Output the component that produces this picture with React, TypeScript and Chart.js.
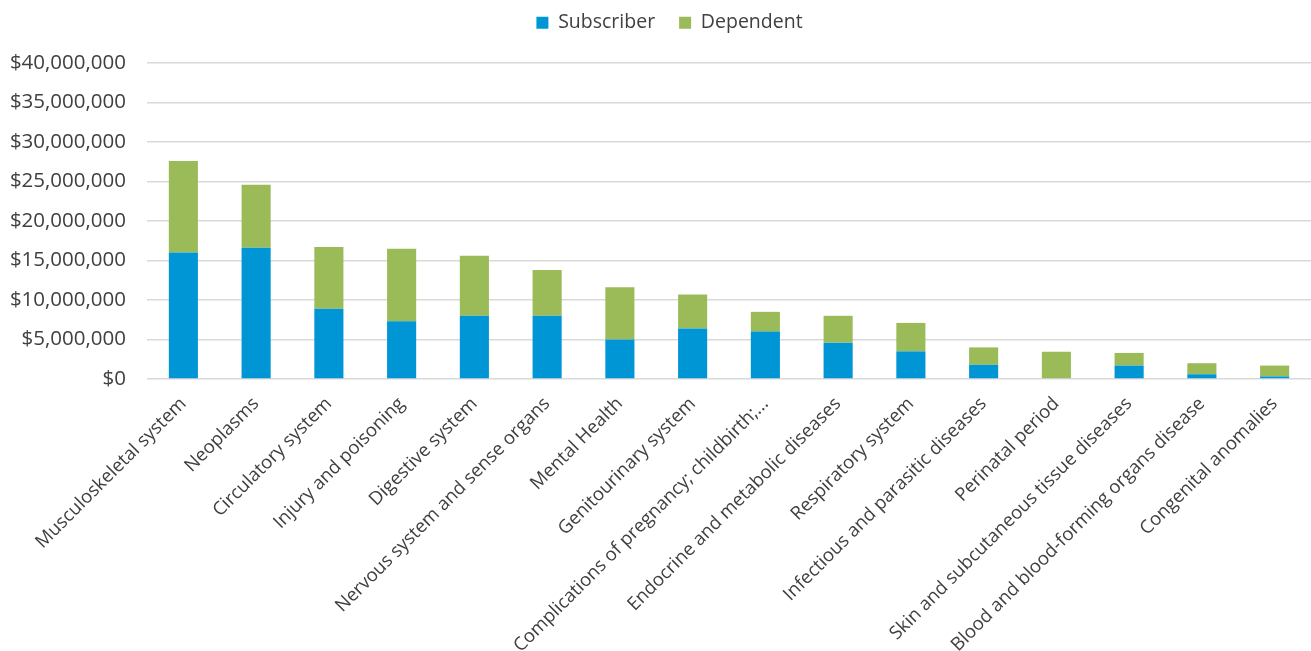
import React, { useEffect, useRef } from "react";
import { Chart, registerables } from "chart.js";

Chart.register(...registerables);

const categories = [
  "Musculoskeletal system",
  "Neoplasms",
  "Circulatory system",
  "Injury and poisoning",
  "Digestive system",
  "Nervous system and sense organs",
  "Mental Health",
  "Genitourinary system",
  "Complications of pregnancy; childbirth;...",
  "Endocrine and metabolic diseases",
  "Respiratory system",
  "Infectious and parasitic diseases",
  "Perinatal period",
  "Skin and subcutaneous tissue diseases",
  "Blood and blood-forming organs disease",
  "Congenital anomalies",
];

const subscriber = [
  16000000, 16600000, 8900000, 7300000, 8000000, 8000000, 5000000, 6400000,
  6000000, 4600000, 3500000, 1800000, 0, 1700000, 600000, 330000,
];

const dependent = [
  11600000, 8000000, 7800000, 9200000, 7600000, 5800000, 6600000, 4300000,
  2500000, 3400000, 3600000, 2200000, 3450000, 1600000, 1400000, 1370000,
];

const yTicks = [0, 5000000, 10000000, 15000000, 20000000, 25000000, 30000000, 35000000, 40000000];

const FONT = "'Open Sans', sans-serif";
const TEXT = "#404040";

export default function App() {
  const ref = useRef<HTMLCanvasElement | null>(null);
  useEffect(() => {
    if (!ref.current) return;
    const legendFix = {
      id: "legendFix",
      beforeInit(chart: any) {
        const lg = chart.legend;
        const origFit = lg.fit;
        lg.fit = function () {
          origFit.call(this);
          this.height = 63;
        };
        const origDraw = lg.draw;
        lg.draw = function () {
          const ctx = this.ctx;
          ctx.save();
          ctx.translate(14, -11);
          origDraw.call(this);
          ctx.restore();
        };
      },
    };
    const chart = new Chart(ref.current, {
      type: "bar",
      data: {
        labels: categories,
        datasets: [
          {
            label: "Subscriber",
            data: subscriber,
            backgroundColor: "#0096D6",
            barPercentage: 0.4,
            categoryPercentage: 1,
          },
          {
            label: "Dependent",
            data: dependent,
            backgroundColor: "#9BBB59",
            barPercentage: 0.4,
            categoryPercentage: 1,
          },
        ],
      },
      options: {
        animation: false,
        responsive: true,
        maintainAspectRatio: false,
        layout: { padding: { left: 0, right: 0, top: 0, bottom: 0 } },
        plugins: {
          legend: {
            position: "top",
            labels: {
              boxWidth: 12,
              boxHeight: 12,
              padding: 24,
              color: TEXT,
              font: { family: FONT, size: 19.5 },
            },
          },
          tooltip: { enabled: false },
        },
        scales: {
          x: {
            stacked: true,
            grid: { display: false },
            border: { display: false },
            ticks: {
              autoSkip: false,
              maxRotation: 45,
              minRotation: 45,
              padding: 6,
              color: TEXT,
              font: { family: FONT, size: 18.5 },
            },
            afterFit(scale: any) {
              scale.height = 272;
            },
          },
          y: {
            stacked: true,
            min: 0,
            max: 40000000,
            afterBuildTicks(scale: any) {
              scale.ticks = yTicks.map((v) => ({ value: v }));
            },
            grid: { color: "#D9D9D9", drawTicks: false, tickLength: 0, lineWidth: 1.5 },
            border: { display: false },
            ticks: {
              padding: 21,
              color: TEXT,
              font: { family: FONT, size: 20.5 },
              callback: (v: any) => "$" + Number(v).toLocaleString("en-US"),
            },
            afterFit(scale: any) {
              scale.width = 147;
            },
          },
        },
      },
      plugins: [legendFix],
    });
    return () => chart.destroy();
  }, []);
  return (
    <div style={{ position: "fixed", left: 0, top: 0, width: 1311, height: 651, background: "#fff" }}>
      <canvas ref={ref} />
    </div>
  );
}
